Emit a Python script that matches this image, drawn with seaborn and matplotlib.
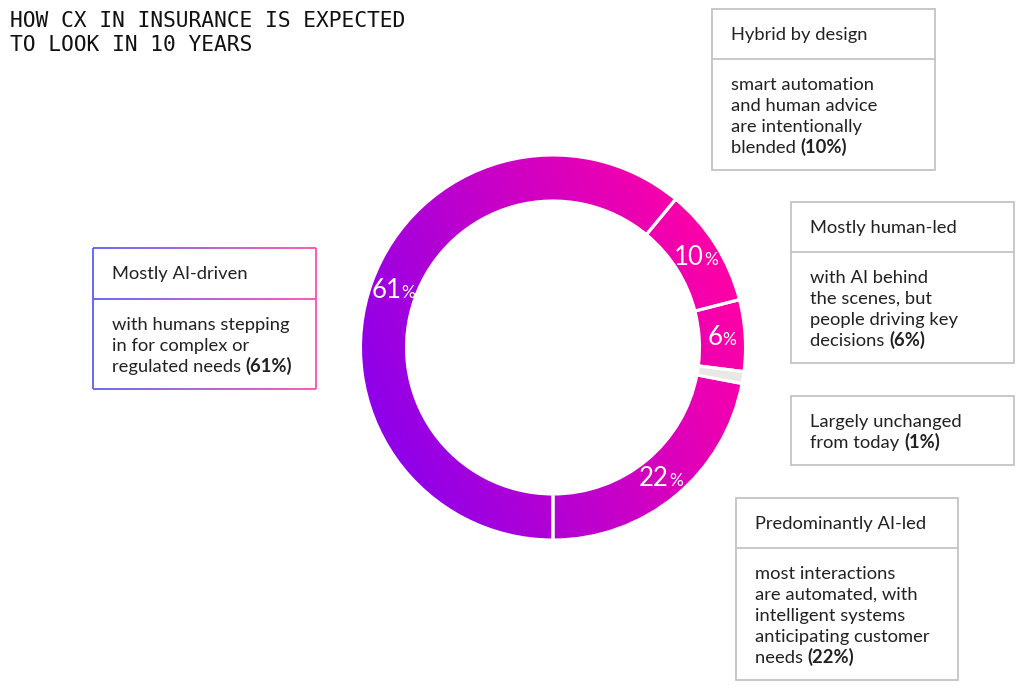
import numpy as np
import pandas as pd
import matplotlib.pyplot as plt
import seaborn as sns
from matplotlib.patches import Rectangle
from matplotlib.collections import LineCollection

# survey shares, in the order the ring runs (from 6 o'clock, anticlockwise)
categories = ['Predominantly AI-led', 'Largely unchanged', 'Mostly human-led',
              'Hybrid by design', 'Mostly AI-driven']
shares = [22, 1, 6, 10, 61]
ring_labels = ['22', '', '6', '10', '61']

title_lines = ['HOW CX IN INSURANCE IS EXPECTED', 'TO LOOK IN 10 YEARS']

headers = {
    'Hybrid by design': 'Hybrid by design',
    'Mostly human-led': 'Mostly human-led',
    'Largely unchanged': None,
    'Predominantly AI-led': 'Predominantly AI-led',
    'Mostly AI-driven': 'Mostly AI-driven',
}
bodies = {
    'Hybrid by design': ['smart automation', 'and human advice', 'are intentionally', 'blended '],
    'Mostly human-led': ['with AI behind', 'the scenes, but', 'people driving key', 'decisions '],
    'Largely unchanged': ['Largely unchanged', 'from today '],
    'Predominantly AI-led': ['most interactions', 'are automated, with', 'intelligent systems',
                             'anticipating customer', 'needs '],
    'Mostly AI-driven': ['with humans stepping', 'in for complex or', 'regulated needs '],
}

# box layout in pixels: left, top, width, height, divider
layout = {
    'Hybrid by design': (712, 9, 223, 161, 59),
    'Mostly human-led': (791, 202, 223, 161, 252),
    'Largely unchanged': (791, 396, 223, 69, None),
    'Predominantly AI-led': (736, 498, 222, 182, 548),
    'Mostly AI-driven': (93, 248, 223, 141, 299),
}

sns.set_theme(style='white')
plt.rcParams['font.family'] = ['Lato', 'DejaVu Sans']
txt_col = '#222222'
fs = 13.2

W, H = 1034, 700
fig = plt.figure(figsize=(W / 100, H / 100), dpi=100)
ax = fig.add_axes([0, 0, 1, 1])

df = pd.DataFrame({'category': categories, 'share': shares, 'label': ring_labels})

# donut
cx, cy, R, ring = 553, 347.5, 192.5, 46
face = ['#e9e8e5' if c == 'Largely unchanged' else 'none' for c in df['category']]
wedges, _ = ax.pie(df['share'], center=(cx, cy), radius=R, startangle=90,
                   counterclock=False, colors=face,
                   wedgeprops=dict(width=ring, edgecolor='white', linewidth=2.2))

# purple -> pink gradient, clipped to the coloured wedges
gx = np.linspace(cx - R, cx + R, 400)
gy = np.linspace(cy - R, cy + R, 400)
GX, GY = np.meshgrid(gx, gy)
a = np.deg2rad(22)
t = (((GX - cx) * np.cos(a) - (GY - cy) * np.sin(a)) / R + 1) / 2
ring_cmap = sns.blend_palette(['#8e00ea', '#ff00a6'], as_cmap=True)
for w, c in zip(wedges, df['category']):
    if c == 'Largely unchanged':
        continue
    im = ax.imshow(t, extent=(cx - R, cx + R, cy + R, cy - R), origin='upper',
                   cmap=ring_cmap, vmin=0, vmax=1, zorder=0.5, interpolation='bilinear')
    im.set_clip_path(w)

# boxes
for cat, (bx, by, bw, bh, div) in layout.items():
    if cat == 'Mostly AI-driven':
        cm = sns.blend_palette(['#5a5ef5', '#ff4cae'], as_cmap=True)
        xs = np.linspace(bx, bx + bw, 200)
        segs, cols = [], []
        for yy in (by, div, by + bh):
            for x0, x1 in zip(xs[:-1], xs[1:]):
                segs.append([(x0, yy), (x1, yy)])
                cols.append(cm((x0 - bx) / bw))
        segs += [[(bx, by), (bx, by + bh)], [(bx + bw, by), (bx + bw, by + bh)]]
        cols += [cm(0.0), cm(1.0)]
        ax.add_collection(LineCollection(segs, colors=cols, linewidths=1.3))
    else:
        ax.add_patch(Rectangle((bx, by), bw, bh, fill=False, edgecolor='#c4c4c4', lw=1.3))
        if div is not None:
            ax.plot([bx, bx + bw], [div, div], color='#c4c4c4', lw=1.3)

ax.set_xlim(0, W)
ax.set_ylim(H, 0)
ax.set_aspect('equal')
ax.axis('off')

# title
for i, line in enumerate(title_lines):
    ax.text(10, 27 + i * 24, line, family=['DejaVu Sans Mono'], fontsize=15.3,
            color='#111111', va='baseline', ha='left')

# box texts
last_parts = []
for cat, (bx, by, bw, bh, div) in layout.items():
    tx = bx + 19
    if headers[cat] is not None:
        ax.text(tx, (by + div) / 2 + 6, headers[cat], fontsize=fs, color=txt_col,
                va='baseline', ha='left')
        start = div
    else:
        start = by
    lines = bodies[cat]
    for i, line in enumerate(lines):
        tt = ax.text(tx, start + 31 + i * 21, line, fontsize=fs, color=txt_col,
                     va='baseline', ha='left')
    share = df.loc[df['category'] == cat, 'share'].iloc[0]
    last_parts.append((tt, start + 31 + (len(lines) - 1) * 21, f'({share}%)'))

fig.canvas.draw()
rend = fig.canvas.get_renderer()
inv = ax.transData.inverted()
for tt, yb, bold in last_parts:
    x1 = tt.get_window_extent(rend).x1
    xd = inv.transform((x1, 0))[0]
    ax.text(xd, yb, bold, fontsize=fs, fontweight='bold', color=txt_col,
            va='baseline', ha='left')

# ring labels at the wedge centres
rl = R - ring / 2
for w, lab in zip(wedges, df['label']):
    if not lab:
        continue
    ang = np.deg2rad((w.theta1 + w.theta2) / 2)
    px, py = cx + rl * np.cos(ang), cy + rl * np.sin(ang)
    tn = ax.text(px, py + 8, lab, fontsize=18.5, fontweight='normal', color='white',
                 va='baseline', ha='left', zorder=5)
    tp = ax.text(px, py + 8, '%', fontsize=12.5, fontweight='normal', color='white',
                 va='baseline', ha='left', zorder=5)
    en = tn.get_window_extent(rend)
    ep = tp.get_window_extent(rend)
    left = px - (en.width + ep.width) / 2
    tn.set_x(left)
    tp.set_x(left + en.width)

fig.savefig('out.png', dpi=100)
